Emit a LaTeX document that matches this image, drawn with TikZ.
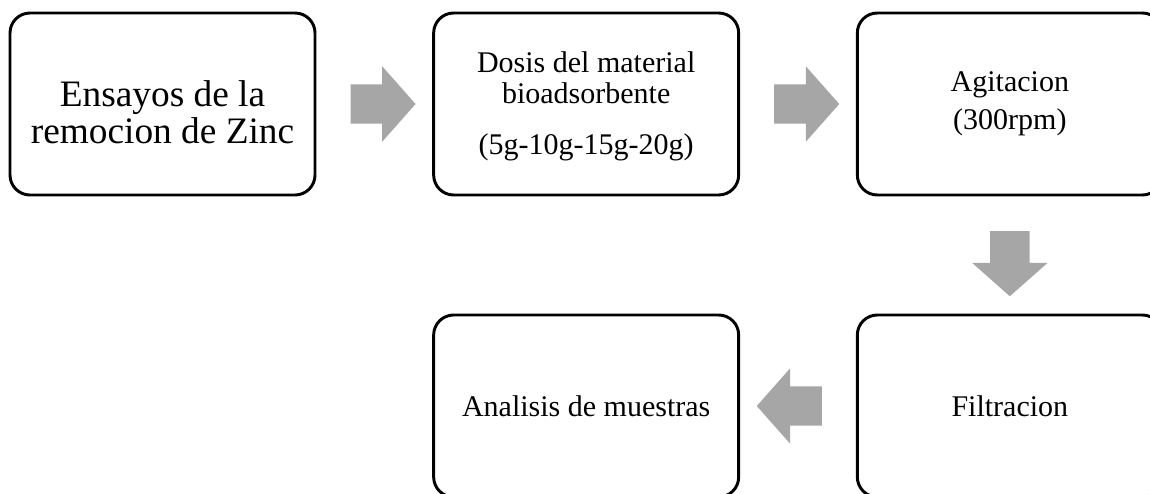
\documentclass[tikz,border=0pt]{standalone}
\usepackage{fontspec}
\setmainfont{Liberation Serif}
\usetikzlibrary{positioning, calc, shapes.arrows}
\definecolor{arrowgray}{RGB}{166,166,166}

\begin{document}
\begin{tikzpicture}
  [stage/.style={rectangle,draw=black,line width=2.2pt,rounded corners=15pt,
   outer sep=0pt,minimum width=228.75pt,minimum height=136.5pt,
   align=center,font=\fontsize{22.5}{23}\selectfont},
   flow/.style={single arrow,fill=arrowgray,draw=none,inner sep=0pt,
                inner ysep=14.6pt,minimum height=48.75pt,
                single arrow head extend=13.5pt,single arrow tip angle=97},
   flow down/.style={flow,inner ysep=0pt,inner xsep=14.6pt,
                     shape border rotate=270},
   node distance=89pt]
   \useasboundingbox (0,0) rectangle (862.5pt,-369.75pt);
   \node[stage,font=\fontsize{28}{27.5}\selectfont] (ensayos) at (121.875pt,-78pt)
     {\rule{0pt}{32pt}Ensayos de la\\remocion de Zinc};
   \node[stage] (dosis)      [right=of ensayos]
     {\rule{0pt}{19pt}Dosis del material\\bioadsorbente\\[15pt](5g-10g-15g-20g)};
   \node[stage] (agitacion)  [right=of dosis]          {Agitacion\\[5.5pt](300rpm)};
   \node[stage] (filtracion) [below=90pt of agitacion] {Filtracion};
   \node[stage] (analisis)   [left=of filtracion]      {Analisis de muestras};
   \node[flow] (ens to dos) at ($(ensayos.east)!0.5!(dosis.west)$)       {};
   \node[flow] (dos to agi) at ($(dosis.east)!0.5!(agitacion.west)$)     {};
   \node[flow down] (agi to fil)
     at ($(agitacion.south)!0.5!(filtracion.north)$) {};
   \node[flow,shape border rotate=180] (fil to ana)
     at ($(filtracion.west)!0.5!(analisis.east)$)    {};
\end{tikzpicture}
\end{document}
